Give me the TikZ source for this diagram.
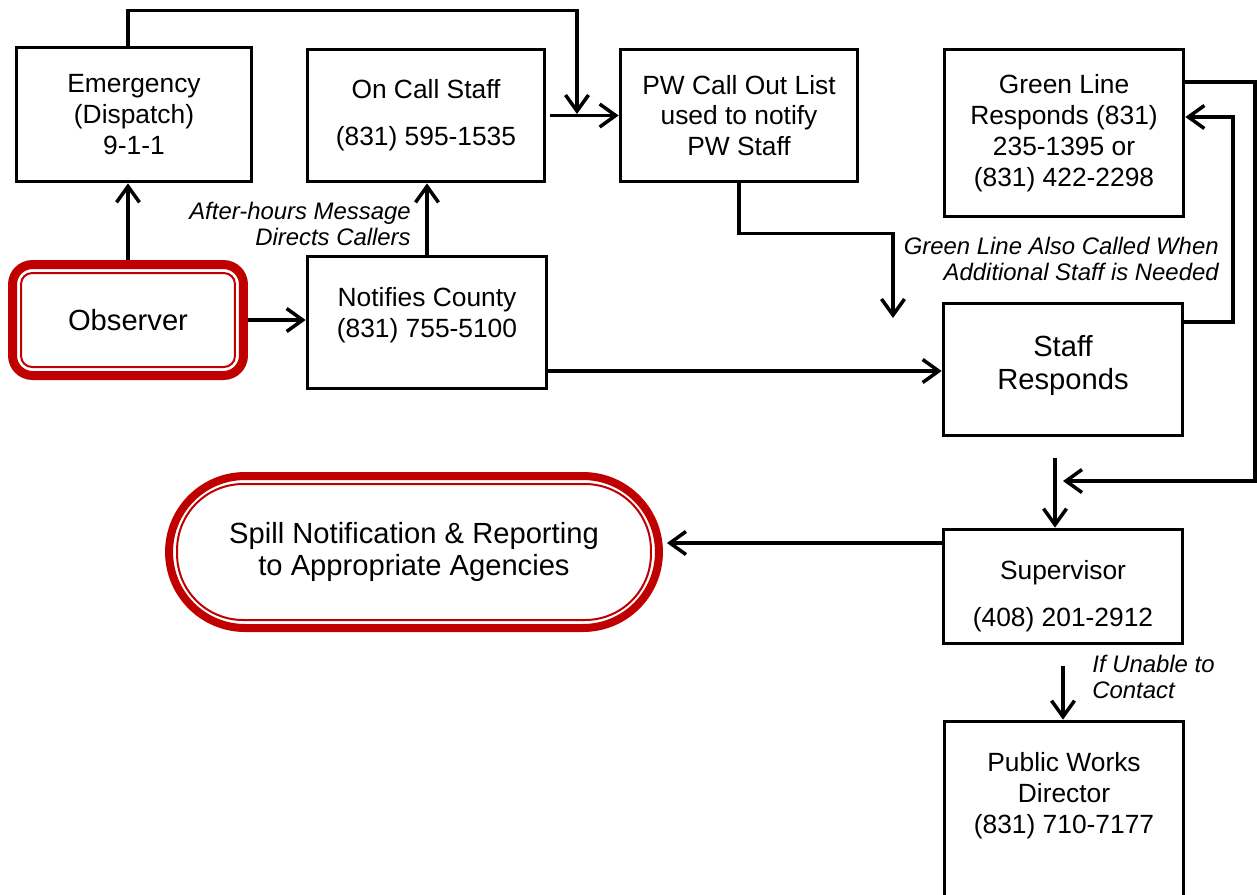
\documentclass[tikz,border=0pt]{standalone}
\usepackage{fontspec}
\setmainfont{Liberation Sans}
\usetikzlibrary{arrows.meta,calc}
\definecolor{framered}{HTML}{C00000}

\tikzset{
  box/.style={draw, line width=0.075cm, minimum width=4.78cm, minimum height=2.64cm, inner sep=0pt, align=center, font=\fontsize{15pt}{17.6pt}\selectfont},
  bigtext/.style={font=\fontsize{16.6pt}{18.6pt}\selectfont},
  note/.style={inner sep=0pt, font=\fontsize{13.6pt}{14.8pt}\selectfont\itshape},
  arr/.style={line width=0.07cm, -{Straight Barb[length=0.32cm,width=0.46cm]}},
}

\begin{document}
\begin{tikzpicture}[x=0.02cm, y=-0.02cm]
  \useasboundingbox (0,0) rectangle (1257,894);
  % boxes
  \node[box, minimum width=4.70cm, minimum height=2.68cm] (emerg) at (134,114.5) {Emergency\\(Dispatch)\\9-1-1};
  \node[box, minimum width=4.74cm] (oncall) at (426,115.5) {On Call Staff\\[0.32cm](831) 595-1535};
  \node[box, minimum width=4.74cm] (pwlist) at (739,115.5) {PW Call Out List\\used to notify\\PW Staff};
  \node[box, minimum height=3.34cm] (green) at (1064,133) {Green Line\\Responds (831)\\235-1395 or\\(831) 422-2298};
  \node[box] (county) at (427,322.5) {Notifies County\\(831) 755-5100\rule[-0.4cm]{0pt}{0.4cm}};
  \node[box, bigtext] (staff) at (1063,369.5) {Staff\\Responds\rule[-0.28cm]{0pt}{0.28cm}};
  \node[box, minimum height=2.28cm] (super) at (1063,586.5) {\rule{0pt}{0.78cm}Supervisor\\[0.32cm](408) 201-2912};
  \node[box, minimum height=3.7cm] (director) at (1064,814) {Public Works\\Director\\(831) 710-7177\rule[-0.83cm]{0pt}{0.83cm}};

  % red framed nodes
  \node[draw=framered, line width=0.18cm, rounded corners=0.4cm, minimum width=4.62cm, minimum height=2.22cm, bigtext] (obs) at (128,320) {Observer};
  \draw[framered, line width=0.04cm, rounded corners=0.22cm] ($(obs.south west)+(13,-13)$) rectangle ($(obs.north east)+(-13,13)$);
  \node[draw=framered, line width=0.16cm, rounded corners=1.52cm, minimum width=9.8cm, minimum height=3.04cm, bigtext, align=center] (spill) at (414,552) {Spill Notification \& Reporting\\to Appropriate Agencies};
  \draw[framered, line width=0.04cm, rounded corners=1.32cm] ($(spill.south west)+(12,-12)$) rectangle ($(spill.north east)+(-12,12)$);

  % notes
  \node[note, anchor=east, align=right] (afterhrs) at (411,224) {After-hours Message\\Directs Callers};
  \node[note, anchor=east, align=right] (alsocalled) at (1219,259) {Green Line Also Called When\\Additional Staff is Needed};
  \node[note, anchor=west, align=left] (unable) at (1092,677) {If Unable to\\Contact};

  % connectors
  \coordinate (calltip) at (577,114);
  \coordinate (stafftip) at (893,318);
  \coordinate (loopA) at (1233,117);
  \coordinate (loopB) at (1255,481);
  \coordinate (suptip) at (1063,481);

  \draw[arr] (obs.north) -- (obs.north |- emerg.south);
  \draw[arr] (obs.east) -- (obs.east -| county.west);
  \draw[arr] (county.north) -- (county.north |- oncall.south);
  \draw[arr] (obs.north |- emerg.north) -- ++(0,-35) -| (calltip);
  \draw[arr, shorten <=0.08cm] (oncall.east) -- (pwlist.west);
  \draw[arr] (pwlist.south) -- ++(0,50) -| (stafftip);
  \draw[arr] (county.east |- 0,371) -- (staff.west |- 0,371);
  \draw[arr] (staff.east |- 0,322) -| (loopA) -- (green.east |- loopA);
  \draw[arr] (green.east |- 0,82) -| (loopB) -- (suptip);
  \draw[arr, shorten <=0.42cm] ([xshift=-0.16cm]staff.south) -- ([xshift=-0.16cm]super.north);
  \draw[arr, shorten >=0.08cm] (super.west |- 0,543) -- (spill.east |- 0,543);
  \draw[arr, shorten <=0.42cm] (super.south) -- (super.south |- director.north);
\end{tikzpicture}
\end{document}
